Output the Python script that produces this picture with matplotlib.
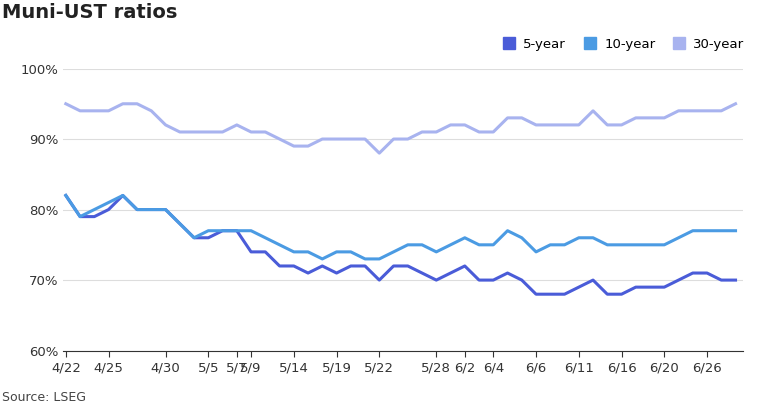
import matplotlib.pyplot as plt
from matplotlib.lines import Line2D

tick_pos = [0, 3, 7, 10, 12, 13, 16, 19, 22, 26, 28, 30, 33, 36, 39, 42, 45]
tick_labels = ["4/22", "4/25", "4/30", "5/5", "5/7", "5/9", "5/14", "5/19", "5/22",
               "5/28", "6/2", "6/4", "6/6", "6/11", "6/16", "6/20", "6/26"]

y5 = [82, 79, 79, 80, 82, 80, 80, 80, 78, 76, 76, 77, 77, 74, 74, 72, 72, 71, 72, 71,
      72, 72, 70, 72, 72, 71, 70, 71, 72, 70, 70, 71, 70, 68, 68, 68, 69, 70, 68, 68,
      69, 69, 69, 70, 71, 71, 70, 70]
y10 = [82, 79, 80, 81, 82, 80, 80, 80, 78, 76, 77, 77, 77, 77, 76, 75, 74, 74, 73, 74,
       74, 73, 73, 74, 75, 75, 74, 75, 76, 75, 75, 77, 76, 74, 75, 75, 76, 76, 75, 75,
       75, 75, 75, 76, 77, 77, 77, 77]
y30 = [95, 94, 94, 94, 95, 95, 94, 92, 91, 91, 91, 91, 92, 91, 91, 90, 89, 89, 90, 90,
       90, 90, 88, 90, 90, 91, 91, 92, 92, 91, 91, 93, 93, 92, 92, 92, 92, 94, 92, 92,
       93, 93, 93, 94, 94, 94, 94, 95]

series = [("5-year", y5, "#4a5cd8"), ("10-year", y10, "#4b9be3"), ("30-year", y30, "#a8b3ef")]

fig = plt.figure(figsize=(7.68, 4.03), dpi=100)
ax = fig.add_axes([0.082, 0.13, 0.885, 0.70])
x = list(range(len(y5)))
for name, ys, c in series:
    ax.plot(x, ys, color=c, lw=2.2, solid_joinstyle="round")

ax.set_ylim(60, 100)
ax.set_yticks(range(60, 101, 10))
ax.set_yticklabels([f"{v}%" for v in range(60, 101, 10)], fontsize=9.5, color="#333333")
ax.set_xlim(-0.2, len(x) - 0.5)
ax.set_xticks(tick_pos)
ax.set_xticklabels(tick_labels, fontsize=9.5, color="#333333")
ax.grid(axis="y", color="#dddddd", lw=0.8)
ax.tick_params(axis="y", length=0)
ax.tick_params(axis="x", length=4, color="#333333")
for s in ["top", "right", "left"]:
    ax.spines[s].set_visible(False)
ax.spines["bottom"].set_color("#333333")

handles = [Line2D([], [], marker="s", ls="", color=c, markersize=8) for _, _, c in series]
fig.legend(handles, [n for n, _, _ in series], loc="upper right", bbox_to_anchor=(0.985, 0.935),
           ncol=3, frameon=False, fontsize=9.5, handletextpad=0.1, columnspacing=0.8)

fig.text(0.003, 0.955, "Muni-UST ratios", fontsize=14, fontweight="bold", color="#222222")
fig.text(0.003, 0.005, "Source: LSEG", fontsize=9, color="#444444")
fig.savefig("out.png", dpi=100)
